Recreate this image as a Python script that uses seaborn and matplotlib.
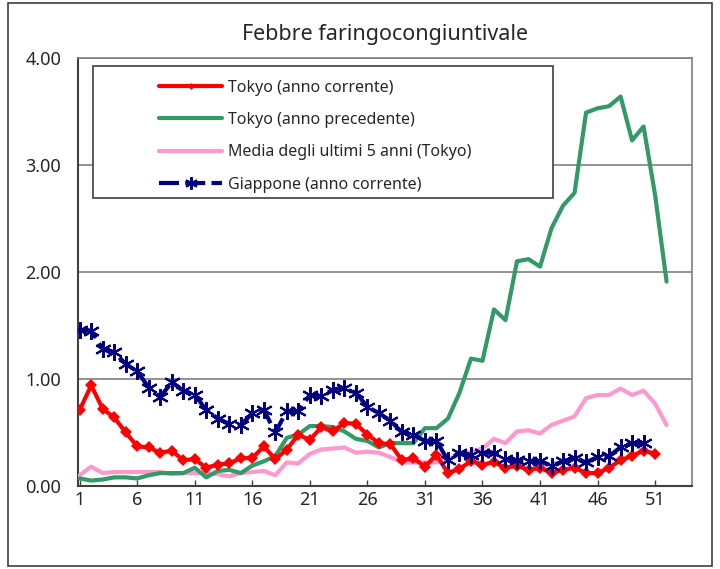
# Febbre faringocongiuntivale - weekly reports per sentinel site
import matplotlib
matplotlib.use("Agg")
import matplotlib.pyplot as plt
from matplotlib.lines import Line2D
from matplotlib.patches import Rectangle
import seaborn as sns

# ---------------------------------------------
# DATA
# ---------------------------------------------
tokyo_current = [0.71, 0.94, 0.72, 0.64, 0.50, 0.37, 0.36, 0.31, 0.33, 0.24,
                 0.25, 0.17, 0.20, 0.21, 0.26, 0.26, 0.37, 0.25, 0.34, 0.48,
                 0.43, 0.55, 0.51, 0.59, 0.58, 0.48, 0.40, 0.39, 0.24, 0.26,
                 0.18, 0.29, 0.12, 0.16, 0.23, 0.20, 0.22, 0.17, 0.19, 0.15,
                 0.17, 0.12, 0.15, 0.17, 0.12, 0.12, 0.17, 0.24, 0.28, 0.33,
                 0.30]

tokyo_previous = [0.07, 0.05, 0.06, 0.08, 0.08, 0.07, 0.10, 0.12, 0.12, 0.12,
                  0.17, 0.08, 0.14, 0.15, 0.12, 0.19, 0.23, 0.28, 0.45, 0.48,
                  0.56, 0.56, 0.55, 0.51, 0.44, 0.42, 0.36, 0.40, 0.40, 0.40,
                  0.54, 0.54, 0.63, 0.87, 1.19, 1.17, 1.65, 1.55, 2.10, 2.12,
                  2.05, 2.41, 2.62, 2.74, 3.49, 3.53, 3.55, 3.64, 3.23, 3.36,
                  2.72, 1.91]

tokyo_5yr_avg = [0.10, 0.18, 0.12, 0.13, 0.13, 0.13, 0.13, 0.13, 0.11, 0.12,
                 0.12, 0.12, 0.11, 0.09, 0.12, 0.13, 0.14, 0.10, 0.22, 0.21,
                 0.30, 0.34, 0.35, 0.36, 0.31, 0.32, 0.31, 0.27, 0.22, 0.22,
                 0.22, 0.22, 0.25, 0.29, 0.32, 0.35, 0.44, 0.40, 0.51, 0.52,
                 0.49, 0.57, 0.61, 0.65, 0.82, 0.85, 0.85, 0.91, 0.85, 0.89,
                 0.77, 0.57]

japan_current = [1.46, 1.45, 1.28, 1.25, 1.14, 1.07, 0.92, 0.83, 0.97, 0.89,
                 0.85, 0.71, 0.63, 0.58, 0.57, 0.68, 0.71, 0.50, 0.70, 0.70,
                 0.85, 0.84, 0.90, 0.92, 0.87, 0.74, 0.68, 0.61, 0.50, 0.48,
                 0.42, 0.42, 0.24, 0.31, 0.29, 0.31, 0.31, 0.25, 0.24, 0.23,
                 0.23, 0.19, 0.23, 0.26, 0.22, 0.27, 0.28, 0.36, 0.40, 0.40]

labels = ["Tokyo (anno corrente)", "Tokyo (anno precedente)",
          "Media degli ultimi 5 anni (Tokyo)", "Giappone (anno corrente)"]
title = "Febbre faringocongiuntivale"
x_ticks = list(range(1, 52, 5))
y_ticks = [0, 1, 2, 3, 4]

# ---------------------------------------------
# PLOT
# ---------------------------------------------
sns.set_style("white")
plt.rcParams['font.family'] = ['Noto Sans', 'DejaVu Sans']

RED = "#FF0000"
GREEN = "#339966"
PINK = "#FF99CC"
NAVY = "#000080"

fig = plt.figure(figsize=(7.2, 5.69), dpi=100)
ax = fig.add_axes([0.108, 0.146, 0.853, 0.752])

# gridlines
for v in y_ticks[1:]:
    ax.axhline(v, color="#808080", lw=1.2, zorder=1)

sns.lineplot(x=range(1, len(tokyo_5yr_avg) + 1), y=tokyo_5yr_avg, ax=ax,
             color=PINK, lw=3, zorder=3)
sns.lineplot(x=range(1, len(tokyo_previous) + 1), y=tokyo_previous, ax=ax,
             color=GREEN, lw=3, zorder=4)
sns.lineplot(x=range(1, len(tokyo_current) + 1), y=tokyo_current, ax=ax,
             color=RED, lw=3, marker="D", markersize=6.5, markeredgewidth=0,
             zorder=5)
sns.lineplot(x=range(1, len(japan_current) + 1), y=japan_current, ax=ax,
             color=NAVY, lw=3, linestyle=(0, (4.8, 1.5)), marker=(6, 2, 0),
             markersize=12, markeredgewidth=1.5, markeredgecolor=NAVY, zorder=6)

ax.set_xlim(0.83, 54.2)
ax.set_ylim(0, 4)
ax.set_xticks(x_ticks)
ax.set_xticklabels([str(t) for t in x_ticks], fontsize=13)
ax.set_yticks(y_ticks)
ax.set_yticklabels([f"{v:.2f}" for v in y_ticks], fontsize=13)
ax.tick_params(axis="x", length=4, width=1, color="#404040", pad=4, direction="in", bottom=True)
ax.tick_params(axis="y", length=0, pad=12)
ax.set_xlabel("")
ax.set_ylabel("")

for side in ["top", "right"]:
    ax.spines[side].set_color("#808080")
    ax.spines[side].set_linewidth(1.2)
for side in ["left", "bottom"]:
    ax.spines[side].set_color("#404040")
    ax.spines[side].set_linewidth(1.5)

ax.set_title(title, fontsize=15.5, pad=13)

# legend box
ax.add_patch(Rectangle((0.0244, 0.673), 0.75, 0.308, transform=ax.transAxes,
                       facecolor="white", edgecolor="#404040", lw=1.2, zorder=7))
handles = [
    Line2D([], [], color=RED, lw=3, marker="D", markersize=3.5, markeredgewidth=0),
    Line2D([], [], color=GREEN, lw=3),
    Line2D([], [], color=PINK, lw=3),
    Line2D([], [], color=NAVY, lw=3, linestyle=(0, (4.8, 1.5)), marker=(6, 2, 0),
           markersize=9, markeredgewidth=1.5),
]
leg = ax.legend(handles, labels, loc="upper left", bbox_to_anchor=(0.107, 0.987),
                frameon=False, fontsize=11.5, handlelength=3.9, handletextpad=0.4,
                labelspacing=1.03, borderpad=0.5)
leg.set_zorder(8)

# outer chart border
fig.add_artist(Rectangle((0.011, 0.005), 0.978, 0.99, transform=fig.transFigure,
                         fill=False, edgecolor="#404040", lw=1.2))

fig.savefig("out.png", dpi=100)
